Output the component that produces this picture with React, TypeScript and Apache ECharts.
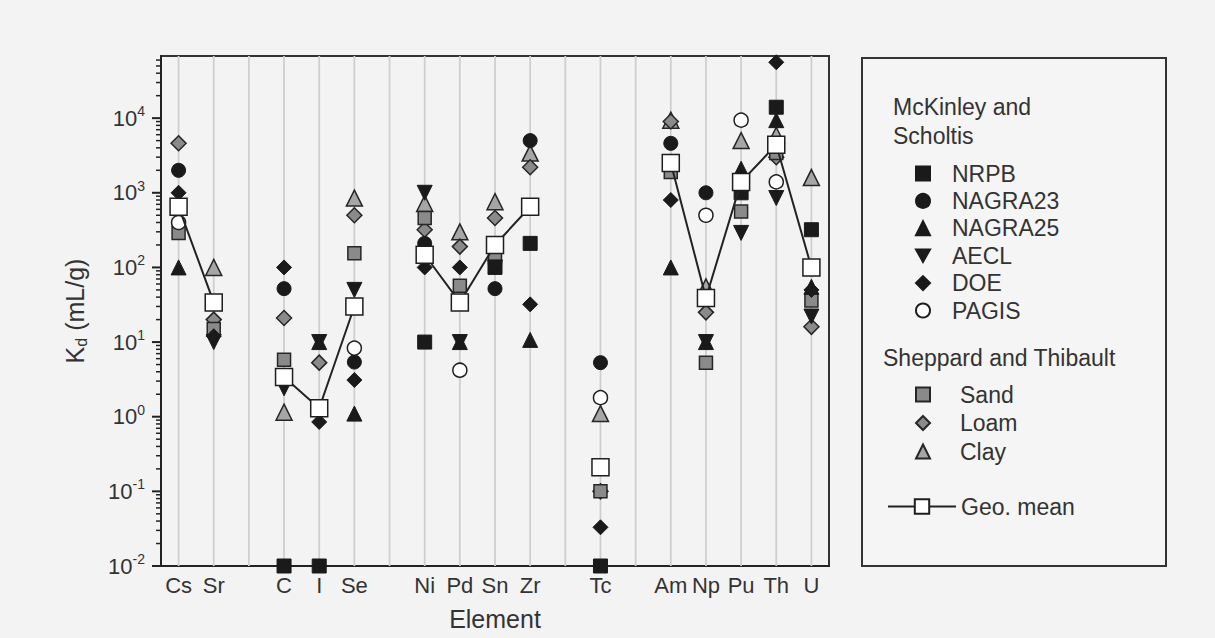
import React, { useEffect, useRef } from "react";
import * as echarts from "echarts";

const FONT = "'Liberation Sans', Arial, sans-serif";

const categories = ["Cs", "Sr", " ", "C", "I", "Se", "  ", "Ni", "Pd", "Sn", "Zr", "   ", "Tc", "    ", "Am", "Np", "Pu", "Th", "U"];
const N = null;
const nrpb = [N, N, N, 0.01, 0.01, N, N, 10, N, 100, 210, N, 0.01, N, N, N, 1000, 14000, 320];
const nagra23 = [2000, N, N, 52, N, 5.4, N, 210, N, 52, 5000, N, 5.3, N, 4600, 1000, N, N, N];
const nagra25 = [100, N, N, N, 10, 1.1, N, N, 10, N, 10.7, N, N, N, 100, 10, 2100, 9400, 55];
const aecl = [N, 10, N, 2.4, 10, 50, N, 1000, 10, 100, N, N, N, N, N, 10, 290, 850, 22];
const doe = [1000, 12, N, 100, 0.85, 3.1, N, 100, 100, N, 32, N, 0.033, N, 800, N, N, 56000, 50];
const pagis = [400, N, N, N, N, 8.3, N, N, 4.2, N, N, N, 1.8, N, N, 500, 9400, 1400, N];
const sand = [290, 15, N, 5.8, N, 155, N, 460, 57, 137, N, N, 0.1, N, 1900, 5.3, 560, 3400, 36];
const loam = [4600, 20, N, 21, 5.3, 500, N, 320, 190, 460, 2200, N, 0.1, N, 9000, 25, N, 3000, 16];
const clay = [N, 100, N, 1.15, N, 850, N, 720, 300, 760, 3400, N, 1.1, N, 9400, 55, 5000, 5900, 1600];
const geoMean = [650, 34, N, 3.4, 1.3, 30, N, 148, 34, 200, 650, N, 0.21, N, 2500, 39, 1400, 4400, 100];

const majorTicks = [0.01, 0.1, 1, 10, 100, 1000, 10000];
const Y_MIN = 0.01;
const Y_MAX = 68000;

const toPoints = (arr: (number | null)[]) =>
  arr.map((v, i) => (v == null ? null : [i, v])).filter((p) => p !== null);

const BLACK = "#1a1a1a";
const DOWN_TRI = "path://M0,0L10,0L5,9Z";

function buildTicks() {
  const list: any[] = [];
  majorTicks.forEach((m) => {
    list.push([0, m, 1]);
    for (let k = 2; k <= 9; k++) {
      const v = m * k;
      if (v <= Y_MAX) list.push([0, v, 0]);
    }
  });
  return list;
}

export default function App() {
  const ref = useRef<HTMLDivElement>(null);
  useEffect(() => {
    if (!ref.current) return;
    const chart = echarts.init(ref.current, null, { renderer: "svg" });
    const blackStyle = { color: BLACK, borderColor: BLACK, borderWidth: 1, opacity: 1 };
    const grayStyle = { color: "#8a8a8a", borderColor: "#262626", borderWidth: 1.5, opacity: 1 };
    const clayStyle = { color: "#a6a6a6", borderColor: "#262626", borderWidth: 1.5, opacity: 1 };
    const whiteStyle = { color: "#ffffff", borderColor: "#1e1e1e", borderWidth: 1.5, opacity: 1 };
    const scatter = (name: string, data: any[], symbol: string, size: number, itemStyle: any, z = 3) => ({
      name,
      type: "scatter",
      data: toPoints(data),
      symbol,
      symbolSize: size,
      itemStyle,
      z,
      silent: true,
    });
    const option: any = {
      animation: false,
      backgroundColor: "#f3f3f3",
      textStyle: { fontFamily: FONT },
      grid: {
        left: 161,
        right: 386,
        top: 56,
        bottom: 72,
        show: true,
        borderColor: "#333",
        borderWidth: 2,
        backgroundColor: "transparent",
      },
      xAxis: {
        type: "category",
        data: categories,
        boundaryGap: true,
        axisLine: { lineStyle: { color: "#222", width: 2 } },
        axisTick: { show: false },
        axisLabel: { interval: 0, color: "#333", fontSize: 22, margin: 8, fontFamily: FONT },
        splitLine: { show: false },
        name: "Element",
        nameLocation: "middle",
        nameGap: 40,
        nameTextStyle: { fontSize: 25, color: "#333", fontFamily: FONT },
      },
      yAxis: {
        type: "log",
        logBase: 10,
        min: Y_MIN,
        max: Y_MAX,
        axisLine: { show: true, lineStyle: { color: "#222", width: 2 } },
        axisTick: { show: false },
        splitLine: { show: false },
        axisLabel: {
          margin: 16,
          formatter: (v: number) => {
            const l = Math.log10(v);
            const e = Math.round(l);
            if (Math.abs(l - e) > 1e-6) return "";
            return "{b|10}{s|" + e + "}";
          },
          rich: {
            b: { fontSize: 22, color: "#333", fontFamily: FONT },
            s: { fontSize: 14, color: "#333", fontFamily: FONT, padding: [0, 0, 14, 0] },
          },
        },
        name: "{k|K}{d|d}{k| (mL/g)}",
        nameLocation: "middle",
        nameGap: 72,
        nameTextStyle: {
          rich: {
            k: { fontSize: 25, color: "#333", fontFamily: FONT },
            d: { fontSize: 16, color: "#333", fontFamily: FONT, padding: [12, 0, 0, 0] },
          },
        },
      },
      legend: [
        {
          data: ["NRPB", "NAGRA23", "NAGRA25", "AECL", "DOE", "PAGIS"],
          orient: "vertical",
          left: 910,
          top: 157,
          itemWidth: 14,
          itemHeight: 14,
          itemGap: 4.4,
          selectedMode: false,
          textStyle: { fontSize: 23, lineHeight: 23, color: "#333", fontFamily: FONT, padding: [0, 0, 0, 17] },
        },
        {
          data: ["Sand", "Loam", "Clay"],
          orient: "vertical",
          left: 910,
          top: 378,
          itemWidth: 14,
          itemHeight: 14,
          itemGap: 5.5,
          selectedMode: false,
          textStyle: { fontSize: 23, lineHeight: 23, color: "#333", fontFamily: FONT, padding: [0, 0, 0, 25] },
        },
        {
          data: ["Geo. mean"],
          orient: "vertical",
          left: 882,
          top: 490,
          itemWidth: 68,
          itemHeight: 18,
          itemGap: 0,
          selectedMode: false,
          textStyle: { fontSize: 23, lineHeight: 23, color: "#333", fontFamily: FONT, padding: [0, 0, 0, 0] },
        },
      ],
      graphic: [
        {
          type: "rect",
          z: 0,
          shape: { x: 862, y: 58, width: 304, height: 508 },
          style: { fill: "#f5f5f5", stroke: "#333", lineWidth: 2 },
        },
        {
          type: "text",
          z: 5,
          x: 893,
          y: 107,
          style: { text: "McKinley and", fill: "#333", font: "23px " + FONT, verticalAlign: "middle" },
        },
        {
          type: "text",
          z: 5,
          x: 893,
          y: 136,
          style: { text: "Scholtis", fill: "#333", font: "23px " + FONT, verticalAlign: "middle" },
        },
        {
          type: "text",
          z: 5,
          x: 883,
          y: 358,
          style: { text: "Sheppard and Thibault", fill: "#333", font: "23px " + FONT, verticalAlign: "middle" },
        },
      ],
      series: [
        {
          type: "custom",
          name: "vgrid",
          silent: true,
          z: 1,
          data: categories.map((_, i) => [i, 1]),
          renderItem: (params: any, api: any) => {
            const x = api.coord([api.value(0), 1])[0];
            const cs = params.coordSys;
            return {
              type: "line",
              shape: { x1: x, y1: cs.y, x2: x, y2: cs.y + cs.height },
              style: { stroke: "#cfcfcf", lineWidth: 1.8 },
            };
          },
        },
        {
          type: "custom",
          name: "yticks",
          silent: true,
          z: 6,
          clip: false,
          data: buildTicks(),
          renderItem: (params: any, api: any) => {
            const y = api.coord([0, api.value(1)])[1];
            const x0 = params.coordSys.x;
            const len = api.value(2) ? 9 : 5;
            return {
              type: "line",
              shape: { x1: x0 - len, y1: y, x2: x0, y2: y },
              style: { stroke: "#222", lineWidth: api.value(2) ? 2 : 1.5 },
            };
          },
        },
        scatter("Clay", clay, "triangle", 16, clayStyle),
        scatter("Loam", loam, "diamond", 15, grayStyle),
        scatter("Sand", sand, "rect", 13, grayStyle),
        scatter("NRPB", nrpb, "rect", 14, blackStyle),
        scatter("NAGRA23", nagra23, "circle", 14, blackStyle),
        scatter("NAGRA25", nagra25, "triangle", 15, blackStyle),
        scatter("AECL", aecl, DOWN_TRI, 15, blackStyle),
        scatter("DOE", doe, "diamond", 15, blackStyle),
        scatter("PAGIS", pagis, "circle", 14, whiteStyle),
        {
          name: "Geo. mean",
          type: "line",
          data: geoMean.map((v) => (v == null ? "-" : v)),
          connectNulls: false,
          symbol: "rect",
          symbolSize: 17,
          showAllSymbol: true,
          itemStyle: whiteStyle,
          lineStyle: { color: "#222", width: 2 },
          z: 5,
          silent: true,
        },
      ],
    };
    chart.setOption(option);
    return () => chart.dispose();
  }, []);
  return (
    <div
      ref={ref}
      style={{ position: "fixed", left: 0, top: 0, width: 1215, height: 638, background: "#f3f3f3" }}
    />
  );
}
